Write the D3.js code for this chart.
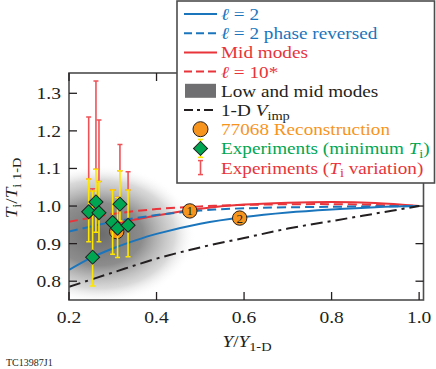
<!DOCTYPE html>
<html>
<head>
<meta charset="utf-8">
<script src="https://cdnjs.cloudflare.com/ajax/libs/d3/7.8.5/d3.min.js"></script>
<style>
  body { margin: 0; background: #fff; }
  svg { display: block; }
</style>
</head>
<body>
<svg id="chart"></svg>
<script>
const width = 436, height = 369;

// axis ticks
const xTicks = [0.2, 0.4, 0.6, 0.8, 1.0];
const yTicks = [0.8, 0.9, 1.0, 1.1, 1.2, 1.3];

// model curves (Y/Y1-D vs Ti/Ti1-D)
const l2X = [0.2, 0.25, 0.3, 0.35, 0.4, 0.5, 0.6, 0.7, 0.8, 0.9, 1.0];
const l2Y = [0.83, 0.862, 0.887, 0.908, 0.926, 0.953, 0.971, 0.983, 0.991, 0.997, 1.0];
const l2revX = [0.2, 0.3, 0.4, 0.5, 0.6, 0.8, 1.0];
const l2revY = [0.932, 0.958, 0.976, 0.988, 0.994, 0.998, 1.0];
const midX = [0.3, 0.4, 0.5, 0.6, 0.7, 0.8, 0.9, 1.0];
const midY = [0.952, 0.975, 0.993, 1.004, 1.009, 1.011, 1.008, 1.0];
const l10X = [0.2, 0.3, 0.4, 0.5, 0.6, 0.8, 1.0];
const l10Y = [0.958, 0.979, 0.992, 0.999, 1.003, 1.005, 1.0];
const vimpX = [0.2, 0.3, 0.4, 0.5, 0.6, 0.7, 0.8, 0.9, 1.0];
const vimpY = [0.785, 0.823, 0.86, 0.89, 0.915, 0.94, 0.96, 0.98, 1.0];

// low and mid modes shaded region (centre and half-widths, data units)
const shadeCenter = [0.27, 0.925];
const shadeHalf = [0.22, 0.185];

// 77068 reconstruction
const reconX = [0.309, 0.476, 0.59];
const reconY = [0.932, 0.987, 0.968];
const reconLabel = ['', '1', '2'];

// experiments
const expX = [0.245, 0.2616, 0.2685, 0.254, 0.2997, 0.311, 0.3164, 0.335];
const expT = [0.985, 1.011, 0.982, 0.864, 0.956, 0.941, 1.005, 0.949];
const expMinLo = [0.905, 0.93, 0.905, 0.787, 0.872, 0.863, 0.96, 0.865];
const expMinHi = [1.072, 1.098, 1.065, 1.04, 1.043, 1.023, 1.094, 1.043];
const expVarHi = [1.237, 1.333, 1.229, 1.046, 1.043, 1.023, 1.164, 1.091];

const SX = 1.13;
const FONT = 'Liberation Serif, Times New Roman, Times, DejaVu Serif, serif';
const BLUE = '#1b75bc', RED = '#e8343a', ORANGE = '#f7941d', GREEN = '#00a651', INK = '#231f20';

const svg = d3.select('#chart').attr('width', width).attr('height', height);

const x = d3.scaleLinear().domain([0.2, 1.01]).range([69, 423.5]);
const y = d3.scaleLinear().domain([0.75, 1.354]).range([300, 73]);

const defs = svg.append('defs');
defs.append('clipPath').attr('id', 'plotclip')
    .append('rect').attr('x', 69).attr('y', 73).attr('width', 354.5).attr('height', 227);
const grad = defs.append('radialGradient').attr('id', 'shade');
[[0, '#5e5e5e', 0.92], [0.45, '#707070', 0.8], [0.78, '#a5a5a5', 0.42], [1, '#ffffff', 0]].forEach(s => {
    grad.append('stop').attr('offset', s[0]).attr('stop-color', s[1]).attr('stop-opacity', s[2]);
});

// rich text helper: parts = [{t, i (italic), sub}]
function rich(parent, px, py, parts, o = {}) {
    const size = o.size || 17;
    const g = parent.append('g')
        .attr('transform', `translate(${px},${py})${o.rot ? ' rotate(-90)' : ''} scale(${o.sx || SX},1)`);
    const t = g.append('text').style('font-family', FONT).attr('font-size', size)
        .attr('fill', o.color || INK).attr('text-anchor', o.anchor || 'start');
    let shift = 0;
    parts.forEach(p => {
        const ts = t.append('tspan').text(p.t);
        if (p.i) ts.attr('font-style', 'italic');
        const target = p.sub ? size * 0.22 : 0;
        if (target !== shift) { ts.attr('dy', target - shift); shift = target; }
        if (p.sub) ts.attr('font-size', size * 0.75);
    });
    return g;
}

// shaded region
const plot = svg.append('g').attr('clip-path', 'url(#plotclip)');
plot.append('ellipse')
    .attr('cx', x(shadeCenter[0])).attr('cy', y(shadeCenter[1]))
    .attr('rx', x(shadeCenter[0] + shadeHalf[0]) - x(shadeCenter[0]))
    .attr('ry', y(shadeCenter[1] - shadeHalf[1]) - y(shadeCenter[1]))
    .attr('fill', 'url(#shade)');

const line = d3.line().x(d => x(d[0])).y(d => y(d[1])).curve(d3.curveCatmullRom.alpha(0.5));
const curves = [
    { xs: midX, ys: midY, color: RED, dash: null },
    { xs: l10X, ys: l10Y, color: RED, dash: '9,5' },
    { xs: l2X, ys: l2Y, color: BLUE, dash: null },
    { xs: l2revX, ys: l2revY, color: BLUE, dash: '9,5' },
    { xs: vimpX, ys: vimpY, color: INK, dash: '12,5,3,5' }
];
curves.forEach(c => {
    plot.append('path')
        .datum(c.xs.map((v, i) => [v, c.ys[i]]))
        .attr('d', line)
        .attr('fill', 'none')
        .attr('stroke', c.color)
        .attr('stroke-width', 2)
        .attr('stroke-dasharray', c.dash);
});

// reconstruction circles
const recon = plot.selectAll('.recon').data(reconX.map((v, i) => [v, reconY[i], reconLabel[i]]))
    .enter().append('g').attr('class', 'recon');
recon.append('circle')
    .attr('cx', d => x(d[0])).attr('cy', d => y(d[1])).attr('r', 7.2)
    .attr('fill', ORANGE).attr('stroke', INK).attr('stroke-width', 1);
recon.append('text')
    .attr('x', d => x(d[0])).attr('y', d => y(d[1]) + 4.5)
    .style('font-family', FONT)
    .attr('text-anchor', 'middle').attr('font-size', 13).attr('fill', INK)
    .text(d => d[2]);

// error bars
function errBar(g, cx, lo, hi, color, w) {
    g.append('line').attr('x1', cx).attr('x2', cx).attr('y1', lo).attr('y2', hi)
        .attr('stroke', color).attr('stroke-width', w);
    [lo, hi].forEach(v => g.append('line').attr('x1', cx - 2.5).attr('x2', cx + 2.5)
        .attr('y1', v).attr('y2', v).attr('stroke', color).attr('stroke-width', 1.5));
}
const bars = plot.append('g');
expX.forEach((v, i) => errBar(bars, x(v), y(expMinHi[i]), y(expVarHi[i]), '#ee5257', 1.6));
expX.forEach((v, i) => errBar(bars, x(v), y(expMinLo[i]), y(expMinHi[i]), '#ffe600', 1.6));

const diamond = d3.symbol().type(d3.symbolSquare).size(98);
plot.selectAll('.exp').data(expX.map((v, i) => [v, expT[i]]))
    .enter().append('path').attr('class', 'exp')
    .attr('d', diamond)
    .attr('transform', d => `translate(${x(d[0])},${y(d[1])}) rotate(45)`)
    .attr('fill', GREEN).attr('stroke', INK).attr('stroke-width', 1);

// frame and ticks
const FRAME = '#4d4d4d';
svg.append('rect').attr('x', 69).attr('y', 73).attr('width', 354.5).attr('height', 227)
    .attr('fill', 'none').attr('stroke', FRAME).attr('stroke-width', 1.6);
const axes = svg.append('g').attr('stroke', INK).attr('stroke-width', 1.3);
yTicks.forEach(t => {
    axes.append('line').attr('x1', 69).attr('x2', 77).attr('y1', y(t)).attr('y2', y(t));
    axes.append('line').attr('x1', 423.5).attr('x2', 415.5).attr('y1', y(t)).attr('y2', y(t));
});
xTicks.forEach(t => {
    axes.append('line').attr('x1', x(t)).attr('x2', x(t)).attr('y1', 300).attr('y2', 292);
    axes.append('line').attr('x1', x(t)).attr('x2', x(t)).attr('y1', 73).attr('y2', 81);
});
yTicks.forEach(t => rich(svg, 61, y(t) + 6, [{ t: d3.format('.1f')(t) }], { anchor: 'end', sx: 1.15 }));
xTicks.forEach(t => rich(svg, x(t), 323, [{ t: d3.format('.1f')(t) }], { anchor: 'middle', sx: 1.15 }));

rich(svg, 247, 347, [{ t: 'Y', i: 1 }, { t: '/' }, { t: 'Y', i: 1 }, { t: '1-D', sub: 1 }], { anchor: 'middle' });
rich(svg, 17, 188, [{ t: 'T', i: 1 }, { t: 'i', sub: 1 }, { t: '/' }, { t: 'T', i: 1 }, { t: 'i 1-D', sub: 1 }], { anchor: 'middle', rot: 1 });
svg.append('text').attr('x', 6).attr('y', 366).style('font-family', FONT)
    .attr('font-size', 10).attr('fill', INK).text('TC13987J1');

// legend
const lg = svg.append('g');
lg.append('rect').attr('x', 177).attr('y', 1).attr('width', 257.5).attr('height', 182)
    .attr('fill', '#fff').attr('stroke', FRAME).attr('stroke-width', 1.6);
const rowY = i => 14 + i * 19.2;
const lx0 = 184, lx1 = 217, tx = 221, sx = 200.5;
const legendLines = [
    { color: BLUE, dash: null, parts: [{ t: 'ℓ', i: 1 }, { t: ' = 2' }] },
    { color: BLUE, dash: '8,4', parts: [{ t: 'ℓ', i: 1 }, { t: ' = 2 phase reversed' }] },
    { color: RED, dash: null, parts: [{ t: 'Mid modes' }] },
    { color: RED, dash: '8,4', parts: [{ t: 'ℓ', i: 1 }, { t: ' = 10*' }] }
];
legendLines.forEach((d, i) => {
    lg.append('line').attr('x1', lx0).attr('x2', lx1).attr('y1', rowY(i)).attr('y2', rowY(i))
        .attr('stroke', d.color).attr('stroke-width', 2).attr('stroke-dasharray', d.dash);
    rich(lg, tx, rowY(i) + 6, d.parts, { color: d.color });
});
lg.append('rect').attr('x', 185).attr('y', rowY(4) - 7).attr('width', 31).attr('height', 14).attr('fill', '#6f6f71');
rich(lg, tx, rowY(4) + 6, [{ t: 'Low and mid modes' }]);
lg.append('line').attr('x1', lx0).attr('x2', lx1).attr('y1', rowY(5)).attr('y2', rowY(5))
    .attr('stroke', INK).attr('stroke-width', 2).attr('stroke-dasharray', '9,4,3,4');
rich(lg, tx, rowY(5) + 6, [{ t: '1-D ' }, { t: 'V', i: 1 }, { t: 'imp', sub: 1 }]);
lg.append('circle').attr('cx', sx).attr('cy', rowY(6)).attr('r', 7.5)
    .attr('fill', ORANGE).attr('stroke', INK).attr('stroke-width', 1);
rich(lg, tx, rowY(6) + 6, [{ t: '77068 Reconstruction' }], { color: ORANGE });
errBar(lg, sx, rowY(7) - 9, rowY(7) + 9, '#ffe600', 1.6);
lg.append('path').attr('d', diamond).attr('transform', `translate(${sx},${rowY(7)}) rotate(45)`)
    .attr('fill', GREEN).attr('stroke', INK).attr('stroke-width', 1);
rich(lg, tx, rowY(7) + 6, [{ t: 'Experiments (minimum ' }, { t: 'T', i: 1 }, { t: 'i', sub: 1 }, { t: ')' }], { color: GREEN });
errBar(lg, sx, rowY(8) - 7, rowY(8) + 7, '#ee5257', 1.6);
rich(lg, tx, rowY(8) + 6, [{ t: 'Experiments (' }, { t: 'T', i: 1 }, { t: 'i', sub: 1 }, { t: ' variation)' }], { color: RED });
</script>
</body>
</html>
